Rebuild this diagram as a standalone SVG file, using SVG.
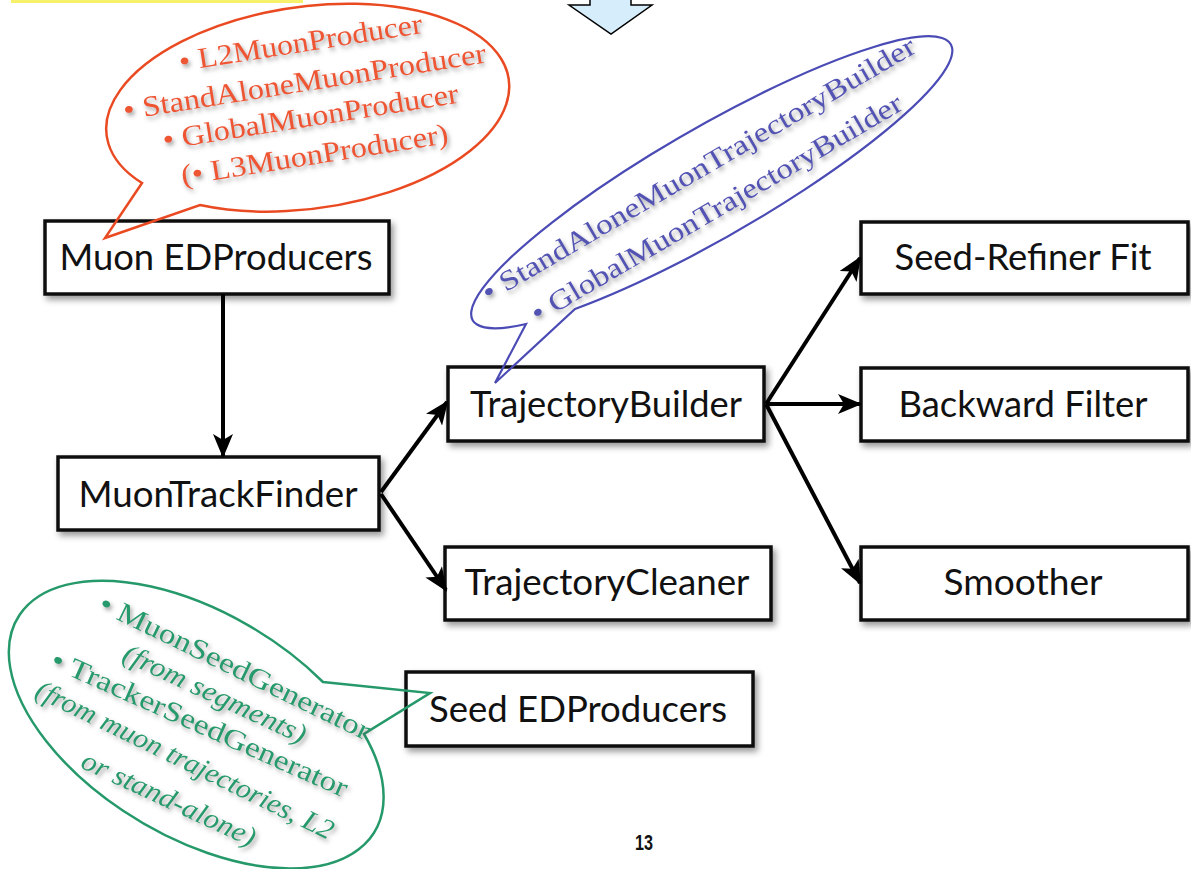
<svg xmlns="http://www.w3.org/2000/svg" width="1191" height="869" viewBox="0 0 1191 869">
<style>
.box{fill:#ffffff;stroke:#111111;stroke-width:3.5}
.lbl{font-family:Lato,"Open Sans","Liberation Sans",sans-serif;font-size:36px;fill:#111111;text-anchor:middle}
.conn{stroke:#000000;stroke-width:4;fill:none}
.red{font-family:"Liberation Serif","DejaVu Serif",serif;font-size:29px;fill:#ee5533;text-anchor:middle}
.blue{font-family:"Liberation Serif","DejaVu Serif",serif;font-size:28px;fill:#5252b4;text-anchor:middle}
.green{font-family:"Liberation Serif","DejaVu Serif",serif;font-size:28px;fill:#279a6c;text-anchor:middle}
.it{font-style:italic}
</style>
<defs>
<filter id="sh" x="-10%" y="-20%" width="125%" height="150%">
<feDropShadow dx="3" dy="4" stdDeviation="3" flood-color="#000" flood-opacity="0.4"/>
</filter>
<filter id="tsh" x="-10%" y="-40%" width="125%" height="190%">
<feDropShadow dx="2" dy="3" stdDeviation="2" flood-color="#555" flood-opacity="0.55"/>
</filter>
<marker id="ah" viewBox="0 0 12 10" refX="11" refY="5" markerWidth="6" markerHeight="5" markerUnits="strokeWidth" orient="auto">
<path d="M0,0 L12,5 L0,10 L3,5 Z" fill="#000"/>
</marker>
</defs>
<rect x="0" y="0" width="1191" height="869" fill="#ffffff"/>
<rect x="11" y="0" width="292" height="3" fill="#f7f06a"/>
<g id="topArrow">
<path d="M590,-2 L590,5 L569,5 L611,34 L652,5 L631,5 L631,-2" fill="#d6edfb" stroke="#000" stroke-width="1.5"/>
</g>

<g id="n-muon-edproducers">
<rect class="box" x="45" y="221" width="344" height="73" filter="url(#sh)"/>
<text class="lbl" x="216" y="270" textLength="313" lengthAdjust="spacingAndGlyphs">Muon EDProducers</text>
</g>
<g id="n-muontrackfinder">
<rect class="box" x="58" y="457" width="321" height="73" filter="url(#sh)"/>
<text class="lbl" x="218" y="507" textLength="279" lengthAdjust="spacingAndGlyphs">MuonTrackFinder</text>
</g>
<g id="n-trajectorybuilder">
<rect class="box" x="448" y="367" width="316" height="74" filter="url(#sh)"/>
<text class="lbl" x="606" y="417" textLength="272" lengthAdjust="spacingAndGlyphs">TrajectoryBuilder</text>
</g>
<g id="n-trajectorycleaner">
<rect class="box" x="445" y="547" width="326" height="73" filter="url(#sh)"/>
<text class="lbl" x="607" y="595" textLength="285" lengthAdjust="spacingAndGlyphs">TrajectoryCleaner</text>
</g>
<g id="n-seed-refiner">
<rect class="box" x="861" y="222" width="327" height="72" filter="url(#sh)"/>
<text class="lbl" x="1023" y="270" textLength="257" lengthAdjust="spacingAndGlyphs">Seed-Refiner Fit</text>
</g>
<g id="n-backward-filter">
<rect class="box" x="861" y="368" width="327" height="73" filter="url(#sh)"/>
<text class="lbl" x="1023" y="417" textLength="249" lengthAdjust="spacingAndGlyphs">Backward Filter</text>
</g>
<g id="n-smoother">
<rect class="box" x="861" y="547" width="327" height="73" filter="url(#sh)"/>
<text class="lbl" x="1023" y="595" textLength="159" lengthAdjust="spacingAndGlyphs">Smoother</text>
</g>
<g id="n-seed-edproducers">
<rect class="box" x="406" y="672" width="347" height="74" filter="url(#sh)"/>
<text class="lbl" x="578" y="722" textLength="298" lengthAdjust="spacingAndGlyphs">Seed EDProducers</text>
</g>

<g id="connectors">
<line class="conn" x1="223" y1="294" x2="223" y2="456" marker-end="url(#ah)"/>
<line class="conn" x1="381" y1="492" x2="447" y2="402" marker-end="url(#ah)"/>
<line class="conn" x1="381" y1="494" x2="446" y2="590" marker-end="url(#ah)"/>
<line class="conn" x1="766" y1="404" x2="860" y2="258" marker-end="url(#ah)"/>
<line class="conn" x1="766" y1="404" x2="860" y2="404" marker-end="url(#ah)"/>
<line class="conn" x1="766" y1="404" x2="860" y2="583" marker-end="url(#ah)"/>
</g>

<g id="callout-red">
<path d="M142,183 L105,238 L200,205 A203 101 -8 1 0 142,183 Z" fill="none" stroke="#ea4a22" stroke-width="2.5"/>
<g filter="url(#tsh)">
<text class="red" transform="translate(302,52) rotate(-9)" x="0" y="0" textLength="246" lengthAdjust="spacingAndGlyphs">• L2MuonProducer</text>
<text class="red" transform="translate(306,91) rotate(-9)" x="0" y="0" textLength="367" lengthAdjust="spacingAndGlyphs">• StandAloneMuonProducer</text>
<text class="red" transform="translate(312,126) rotate(-9)" x="0" y="0" textLength="299" lengthAdjust="spacingAndGlyphs">• GlobalMuonProducer</text>
<text class="red" transform="translate(316,164) rotate(-9)" x="0" y="0" textLength="270" lengthAdjust="spacingAndGlyphs">(• L3MuonProducer)</text>
</g>
</g>

<g id="callout-blue">
<path d="M526,324 L495,383 L575,309 A276 55 -30 1 0 526,324 Z" fill="none" stroke="#4b4bb5" stroke-width="2.2"/>
<g filter="url(#tsh)">
<text class="blue" transform="translate(703,177) rotate(-30.3)" x="0" y="0" textLength="497" lengthAdjust="spacingAndGlyphs">• StandAloneMuonTrajectoryBuilder</text>
<text class="blue" transform="translate(721,216) rotate(-30.3)" x="0" y="0" textLength="425" lengthAdjust="spacingAndGlyphs">• GlobalMuonTrajectoryBuilder</text>
</g>
</g>

<g id="callout-green">
<path d="M323,682 L430,693 L364,734 A208 112 31 1 1 323,682 Z" fill="none" stroke="#26996b" stroke-width="2.5"/>
<g filter="url(#tsh)">
<text class="green" transform="translate(231,675) rotate(26)" x="0" y="0" textLength="298" lengthAdjust="spacingAndGlyphs">• MuonSeedGenerator</text>
<text class="green it" transform="translate(211,702) rotate(25)" x="0" y="0" textLength="199" lengthAdjust="spacingAndGlyphs">(from segments)</text>
<text class="green" transform="translate(196,732) rotate(24)" x="0" y="0" textLength="322" lengthAdjust="spacingAndGlyphs">• TrackerSeedGenerator</text>
<text class="green it" transform="translate(181,768) rotate(26)" x="0" y="0" textLength="328" lengthAdjust="spacingAndGlyphs">(from muon trajectories, L2</text>
<text class="green it" transform="translate(165,807) rotate(25)" x="0" y="0" textLength="189" lengthAdjust="spacingAndGlyphs">or stand-alone)</text>
</g>
</g>

<text x="644" y="850" font-family="'Liberation Sans',sans-serif" font-weight="bold" font-size="22" text-anchor="middle" textLength="18" lengthAdjust="spacingAndGlyphs" fill="#111">13</text>
</svg>
